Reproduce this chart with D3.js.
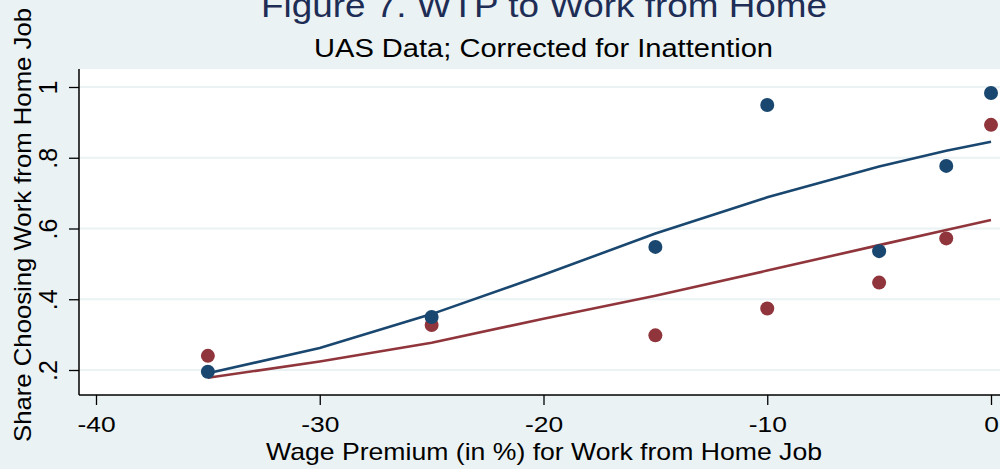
<!DOCTYPE html>
<html>
<head>
<meta charset="utf-8">
<script src="https://cdn.jsdelivr.net/npm/d3@7"></script>
<style>
  body { margin: 0; background: #eaf2f3; }
  svg { display: block; font-family: "Liberation Sans", Arial, sans-serif; }
</style>
</head>
<body>
<div id="chart"></div>
<script>
// wage premium categories (%)
const premiums = [-35, -25, -15, -10, -5, -2, 0];
// observed shares
const shareBlue = [0.195, 0.350, 0.548, 0.949, 0.536, 0.777, 0.983];
const shareRed  = [0.240, 0.327, 0.298, 0.374, 0.447, 0.572, 0.893];
// fitted curves
const fitX    = [-35, -30, -25, -20, -15, -10, -5, -2, 0];
const fitBlue = [0.191, 0.262, 0.358, 0.469, 0.586, 0.688, 0.775, 0.820, 0.845];
const fitRed  = [0.178, 0.224, 0.277, 0.345, 0.410, 0.481, 0.553, 0.596, 0.624];

const xTicks = [-40, -30, -20, -10, 0];
const yTicks = [0.2, 0.4, 0.6, 0.8, 1];

const W = 1000, H = 469;
const margin = {top: 69, right: 0, bottom: 74, left: 79};
const blue = '#1a476f', red = '#90353b', bg = '#eaf2f3';

const svg = d3.select('#chart').append('svg')
  .attr('width', W)
  .attr('height', H);

svg.append('rect').attr('width', W).attr('height', H).attr('fill', bg);

const x = d3.scaleLinear().domain([-40, 0]).range([96, 991]);
const y = d3.scaleLinear().domain([0.2, 1]).range([370, 87]);

// the original graph is a bit stretched, so texts get wider than the font
function stretch(sel, k) {
  sel.each(function() {
    const len = this.getComputedTextLength();
    d3.select(this).attr('textLength', len * k).attr('lengthAdjust', 'spacingAndGlyphs');
  });
}

// plot region
svg.append('rect')
  .attr('x', margin.left)
  .attr('y', margin.top)
  .attr('width', W - margin.left - margin.right)
  .attr('height', H - margin.top - margin.bottom)
  .attr('fill', '#fff');

// grid
svg.append('g').selectAll('line').data(yTicks).join('line')
  .attr('x1', margin.left).attr('x2', W)
  .attr('y1', d => y(d)).attr('y2', d => y(d))
  .attr('stroke', bg).attr('stroke-width', 2);

// axes
const fmt = d => d === 1 ? '1' : d3.format('.1f')(d).replace(/^0/, '');

const yAxis = svg.append('g')
  .attr('transform', `translate(${margin.left},0)`)
  .call(d3.axisLeft(y).tickValues(yTicks).tickFormat(fmt).tickSize(10).tickPadding(0));
yAxis.select('.domain').attr('d', `M0,${margin.top}V${H - margin.bottom}`).attr('stroke', '#000').attr('stroke-width', 1.5);
yAxis.selectAll('.tick line').attr('stroke-width', 1.3);
yAxis.selectAll('.tick text')
  .attr('font-size', 25)
  .attr('fill', '#000')
  .attr('text-anchor', 'middle')
  .attr('dy', 0)
  .attr('transform', 'translate(-22,0) rotate(-90)')
  .attr('x', 0);

const xAxis = svg.append('g')
  .attr('transform', `translate(0,${H - margin.bottom})`)
  .call(d3.axisBottom(x).tickValues(xTicks).tickFormat(d => String(d)).tickSize(10).tickPadding(11));
xAxis.select('.domain').attr('d', `M${margin.left},0H${W}`).attr('stroke', '#000').attr('stroke-width', 1.5);
xAxis.selectAll('.tick line').attr('stroke-width', 1.3);
xAxis.selectAll('.tick text').attr('font-size', 22).attr('fill', '#000').call(stretch, 1.2);

// fitted lines
const line = d3.line().x(d => x(d[0])).y(d => y(d[1]));
svg.append('path')
  .datum(d3.zip(fitX, fitBlue))
  .attr('d', line).attr('fill', 'none').attr('stroke', blue).attr('stroke-width', 2.6);
svg.append('path')
  .datum(d3.zip(fitX, fitRed))
  .attr('d', line).attr('fill', 'none').attr('stroke', red).attr('stroke-width', 2.6);

// points
svg.append('g').selectAll('circle').data(d3.zip(premiums, shareRed)).join('circle')
  .attr('cx', d => x(d[0])).attr('cy', d => y(d[1])).attr('r', 7).attr('fill', red);
svg.append('g').selectAll('circle').data(d3.zip(premiums, shareBlue)).join('circle')
  .attr('cx', d => x(d[0])).attr('cy', d => y(d[1])).attr('r', 7).attr('fill', blue);

// titles
svg.append('text')
  .attr('x', 544).attr('y', 17)
  .attr('text-anchor', 'middle')
  .attr('font-size', 34)
  .attr('fill', '#1e2d55')
  .attr('textLength', 566).attr('lengthAdjust', 'spacingAndGlyphs')
  .text('Figure 7. WTP to Work from Home');

svg.append('text')
  .attr('x', 543.5).attr('y', 57)
  .attr('text-anchor', 'middle')
  .attr('font-size', 25)
  .attr('fill', '#000')
  .attr('textLength', 459).attr('lengthAdjust', 'spacingAndGlyphs')
  .text('UAS Data; Corrected for Inattention');

svg.append('text')
  .attr('x', 544).attr('y', 460)
  .attr('text-anchor', 'middle')
  .attr('font-size', 24)
  .attr('fill', '#000')
  .attr('textLength', 556).attr('lengthAdjust', 'spacingAndGlyphs')
  .text('Wage Premium (in %) for Work from Home Job');

svg.append('text')
  .attr('transform', 'translate(31,225) rotate(-90)')
  .attr('text-anchor', 'middle')
  .attr('font-size', 24.5)
  .attr('fill', '#000')
  .attr('textLength', 434).attr('lengthAdjust', 'spacingAndGlyphs')
  .text('Share Choosing Work from Home Job');
</script>
</body>
</html>
